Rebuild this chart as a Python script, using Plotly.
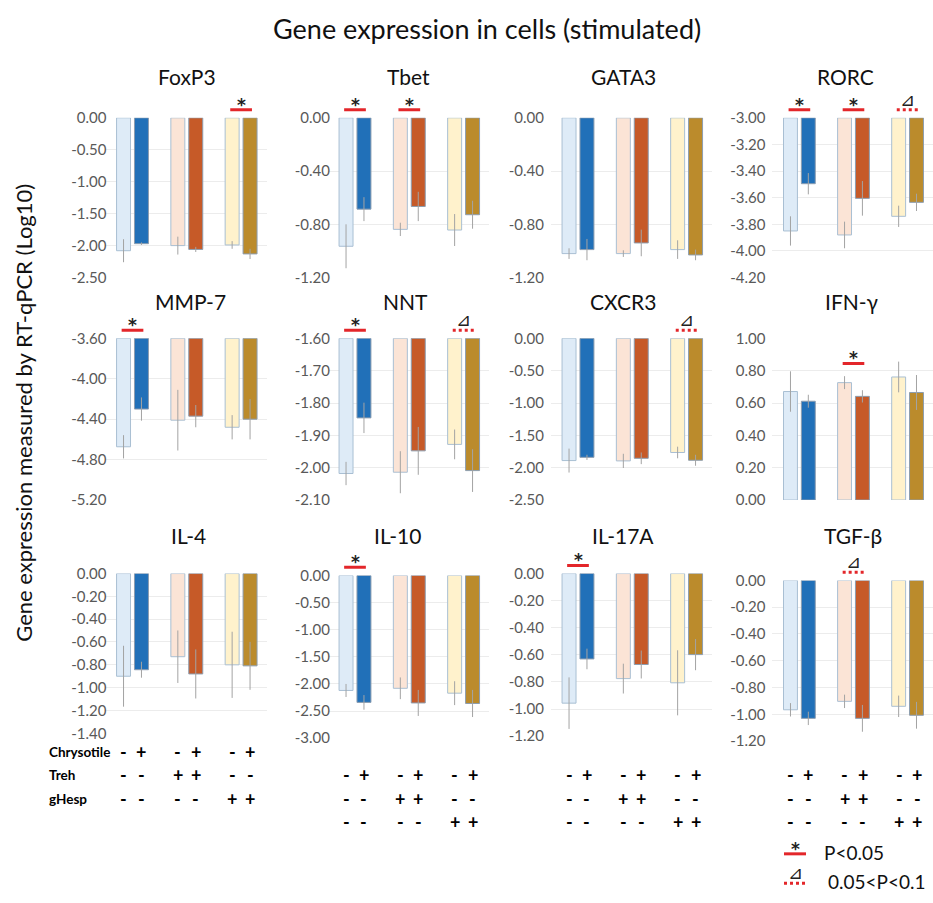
import plotly.graph_objects as go

W, H = 933, 903

# ---------------- data ----------------
genes = ["FoxP3", "Tbet", "GATA3", "RORC",
         "MMP-7", "NNT", "CXCR3", "IFN-γ",
         "IL-4", "IL-10", "IL-17A", "TGF-β"]
conditions = ["Ctrl", "Treh", "gHesp"]

# bar order: [Ctrl chrys-, Ctrl chrys+, Treh chrys-, Treh chrys+, gHesp chrys-, gHesp chrys+]
foxp3 = [-2.08, -1.97, -2.00, -2.06, -1.99, -2.13]
foxp3_err = [0.18, 0.02, 0.14, 0.04, 0.06, 0.08]
tbet = [-0.965, -0.686, -0.838, -0.666, -0.843, -0.728]
tbet_err = [0.165, 0.09, 0.05, 0.11, 0.12, 0.105]
gata3 = [-1.02, -0.99, -1.02, -0.94, -0.99, -1.03]
gata3_err = [0.04, 0.08, 0.025, 0.10, 0.07, 0.04]
rorc = [-3.85, -3.495, -3.88, -3.605, -3.74, -3.635]
rorc_err = [0.11, 0.08, 0.10, 0.13, 0.08, 0.065]
mmp7 = [-4.673, -4.30, -4.41, -4.37, -4.48, -4.40]
mmp7_err = [0.115, 0.115, 0.30, 0.11, 0.12, 0.20]
nnt = [-2.018, -1.846, -2.014, -1.948, -1.928, -2.009]
nnt_err = [0.036, 0.047, 0.065, 0.074, 0.046, 0.066]
cxcr3 = [-1.89, -1.84, -1.895, -1.855, -1.765, -1.885]
cxcr3_err = [0.185, 0.04, 0.11, 0.09, 0.09, 0.085]
ifng = [0.671, 0.611, 0.726, 0.641, 0.761, 0.665]
ifng_err = [0.125, 0.04, 0.04, 0.038, 0.095, 0.108]
il4 = [-0.90, -0.843, -0.729, -0.88, -0.80, -0.809]
il4_err = [0.267, 0.07, 0.23, 0.215, 0.29, 0.21]
il10 = [-2.12, -2.34, -2.08, -2.35, -2.17, -2.36]
il10_err = [0.12, 0.135, 0.20, 0.24, 0.22, 0.25]
il17a = [-0.956, -0.63, -0.775, -0.671, -0.806, -0.598]
il17a_err = [0.19, 0.076, 0.11, 0.103, 0.24, 0.115]
tgfb = [-0.966, -1.03, -0.903, -1.03, -0.94, -1.007]
tgfb_err = [0.05, 0.05, 0.05, 0.10, 0.08, 0.10]

values = [foxp3, tbet, gata3, rorc, mmp7, nnt, cxcr3, ifng, il4, il10, il17a, tgfb]
errors = [foxp3_err, tbet_err, gata3_err, rorc_err, mmp7_err, nnt_err,
          cxcr3_err, ifng_err, il4_err, il10_err, il17a_err, tgfb_err]

# y-axis scales (tick labels)
axis_top = [0.0, 0.0, 0.0, -3.0, -3.6, -1.6, 0.0, 1.0, 0.0, 0.0, 0.0, 0.0]
axis_bottom = [-2.5, -1.2, -1.2, -4.2, -5.2, -2.1, -2.5, 0.0, -1.4, -3.0, -1.2, -1.2]
axis_step = [0.5, 0.4, 0.4, 0.2, 0.4, 0.1, 0.5, 0.2, 0.2, 0.5, 0.2, 0.2]
bar_base = [0.0, 0.0, 0.0, -3.0, -3.6, -1.6, 0.0, 0.0, 0.0, 0.0, 0.0, 0.0]

# significance marks: (panel index, condition index, kind)
significance = [(0, 2, "p05"), (1, 0, "p05"), (1, 1, "p05"),
                (3, 0, "p05"), (3, 1, "p05"), (3, 2, "p1"),
                (4, 0, "p05"), (5, 0, "p05"), (5, 2, "p1"),
                (6, 2, "p1"), (7, 1, "p05"),
                (9, 0, "p05"), (10, 0, "p05"), (11, 1, "p1")]

chrysotile_row = ["-", "+", "-", "+", "-", "+"]
treh_row = ["-", "-", "+", "+", "-", "-"]
ghesp_row = ["-", "-", "-", "-", "+", "+"]
row_names = ["Chrysotile", "Treh", "gHesp"]

# ---------------- styling / layout ----------------
FONT = "Lato, 'Open Sans', 'DejaVu Sans', sans-serif"
light_cols = ["#deebf7", "#fbe4d6", "#fff2cc"]
dark_cols = ["#2170b8", "#c65a28", "#bb8b2c"]
RED = "#e3262a"

col_center0 = [132.5, 355, 578, 799.5]   # px centre of first group
unit = 54.3                              # px per category
xr = [-0.5, 2.47]
col_standoff = [-2, -3, 6, 6]
row_dom = [[(110, 273)] * 4,
           [(335, 500)] * 4,
           [(575, 738), (577, 743), (575, 741), (582, 746)]]
title_x = [187, 408, 623, 845, 190, 405, 623, 852, 188, 397, 623, 853]
title_y = [68, 297, 536]
sig_level = [1.05] * 12
sig_level[7] = 0.845

def px_x(p):
    return p / W

def px_y(p):
    return 1 - p / H

fig = go.Figure()
shapes = []
annotations = []

for i, g in enumerate(genes):
    r, c = divmod(i, 4)
    ax = "" if i == 0 else str(i + 1)
    xa, ya = "x" + ax, "y" + ax
    vals, errs = values[i], errors[i]
    base = bar_base[i]
    for k, cols in enumerate([light_cols, dark_cols]):
        v = vals[k::2]
        e = errs[k::2]
        fig.add_trace(go.Bar(
            x=conditions, y=[val - base for val in v], base=base,
            xaxis=xa, yaxis=ya, showlegend=False, hoverinfo="skip",
            marker=dict(color=cols,
                        line=dict(color="#a9bfd3" if k == 0 else "#8c9db0", width=1)),
            error_y=dict(type="data", array=e, color="#a3a3a3", thickness=1, width=0),
        ))
    x0 = col_center0[c] - 0.5 * unit
    x1 = x0 + (xr[1] - xr[0]) * unit
    top, bot = row_dom[r][c]
    nt = int(round((axis_top[i] - axis_bottom[i]) / axis_step[i]))
    tv = [round(axis_bottom[i] + j * axis_step[i], 4) for j in range(nt + 1)]
    tt = [f"{(0.0 if abs(t) < 1e-9 else t):.2f}" for t in tv]
    fig.update_layout(**{
        ("xaxis" + ax): dict(domain=[px_x(x0), min(1.0, px_x(x1))], range=xr,
                             anchor=ya, showticklabels=False, showgrid=False,
                             zeroline=False, showline=False, fixedrange=True),
        ("yaxis" + ax): dict(domain=[px_y(bot), px_y(top)],
                             range=[axis_bottom[i], axis_top[i]], anchor=xa,
                             tickvals=tv, ticktext=tt, showgrid=True,
                             gridcolor="#ececec", gridwidth=1, zeroline=False,
                             showline=False, ticks="", fixedrange=True,
                             ticklabelstandoff=col_standoff[c],
                             tickfont=dict(family=FONT, size=15, color="#595959")),
    })
    # panel title
    annotations.append(dict(text=g, xref="paper", yref="paper",
                            x=px_x(title_x[i]), y=px_y(title_y[r]),
                            xanchor="center", yanchor="middle", showarrow=False,
                            font=dict(family=FONT, size=21, color="#111111")))

# significance marks
STAR_FONT = "'DejaVu Sans', sans-serif"
for (i, grp, kind) in significance:
    ax = "" if i == 0 else str(i + 1)
    lvl = sig_level[i]
    shapes.append(dict(type="line", xref="x" + ax, yref="y" + ax + " domain",
                       x0=grp - 0.2, x1=grp + 0.2, y0=lvl, y1=lvl,
                       line=dict(color=RED, width=3,
                                 dash="solid" if kind == "p05" else "dot")))
    annotations.append(dict(text="<b>*</b>" if kind == "p05" else "<i>⊿</i>",
                            xref="x" + ax, yref="y" + ax + " domain",
                            x=grp, y=lvl, yanchor="bottom", xanchor="center",
                            yshift=-7 if kind == "p05" else -2, showarrow=False,
                            font=dict(family=STAR_FONT,
                                      size=17 if kind == "p05" else 18, color="#222222")))

# condition rows under the bottom panels
rows = [chrysotile_row, treh_row, ghesp_row]
row_y_col = [[757, 781, 805], [781, 805, 829], [781, 805, 829], [781, 805, 829]]
for c in range(4):
    for ri, row in enumerate(rows):
        for b, sym in enumerate(row):
            grp = b // 2
            off = (-0.5 if b % 2 == 0 else 0.5) * 0.33
            xpx = col_center0[c] + (grp + off) * unit
            annotations.append(dict(text=f"<b>{sym}</b>", xref="paper", yref="paper",
                                    x=px_x(xpx), y=px_y(row_y_col[c][ri]),
                                    xanchor="center", yanchor="middle", showarrow=False,
                                    font=dict(family=FONT, size=18, color="#000000")))
for ri, name in enumerate(row_names):
    annotations.append(dict(text=f"<b>{name}</b>", xref="paper", yref="paper",
                            x=px_x(47), y=px_y(row_y_col[0][ri]), xanchor="left",
                            yanchor="middle", showarrow=False,
                            font=dict(family=FONT, size=13.5, color="#000000")))

# main title and y title
annotations.append(dict(text="Gene expression in cells (stimulated)", xref="paper", yref="paper",
                        x=px_x(487), y=px_y(19), xanchor="center", yanchor="middle",
                        showarrow=False, font=dict(family=FONT, size=27, color="#111111")))
annotations.append(dict(text="Gene expression measured by RT-qPCR (Log10)", xref="paper",
                        yref="paper", x=px_x(24), y=px_y(411), xanchor="center",
                        yanchor="middle", textangle=-90, showarrow=False,
                        font=dict(family=FONT, size=22, color="#111111")))

# legend (bottom right)
shapes.append(dict(type="line", xref="paper", yref="paper", x0=px_x(784), x1=px_x(806),
                   y0=px_y(861), y1=px_y(861), line=dict(color=RED, width=3)))
annotations.append(dict(text="<b>*</b>", xref="paper", yref="paper", x=px_x(795), y=px_y(861),
                        xanchor="center", yanchor="bottom", yshift=-7, showarrow=False,
                        font=dict(family=STAR_FONT, size=17, color="#222222")))
annotations.append(dict(text="P<0.05", xref="paper", yref="paper", x=px_x(822), y=px_y(860),
                        xanchor="left", yanchor="middle", showarrow=False,
                        font=dict(family=FONT, size=19, color="#111111")))
shapes.append(dict(type="line", xref="paper", yref="paper", x0=px_x(784), x1=px_x(806),
                   y0=px_y(891), y1=px_y(891), line=dict(color=RED, width=3, dash="dot")))
annotations.append(dict(text="<i>⊿</i>", xref="paper", yref="paper", x=px_x(795), y=px_y(891),
                        xanchor="center", yanchor="bottom", yshift=-2, showarrow=False,
                        font=dict(family=STAR_FONT, size=18, color="#222222")))
annotations.append(dict(text="0.05<P<0.1", xref="paper", yref="paper", x=px_x(826), y=px_y(889),
                        xanchor="left", yanchor="middle", showarrow=False,
                        font=dict(family=FONT, size=19, color="#111111")))

fig.update_layout(
    width=W, height=H, margin=dict(l=0, r=0, t=0, b=0),
    paper_bgcolor="white", plot_bgcolor="white",
    barmode="group", bargap=0.34, bargroupgap=0.22,
    shapes=shapes, annotations=annotations, showlegend=False,
    font=dict(family=FONT), hovermode=False,
)

fig.write_html("out.html", config={"displayModeBar": False, "staticPlot": True},
               post_script="document.body.style.margin='0';")
